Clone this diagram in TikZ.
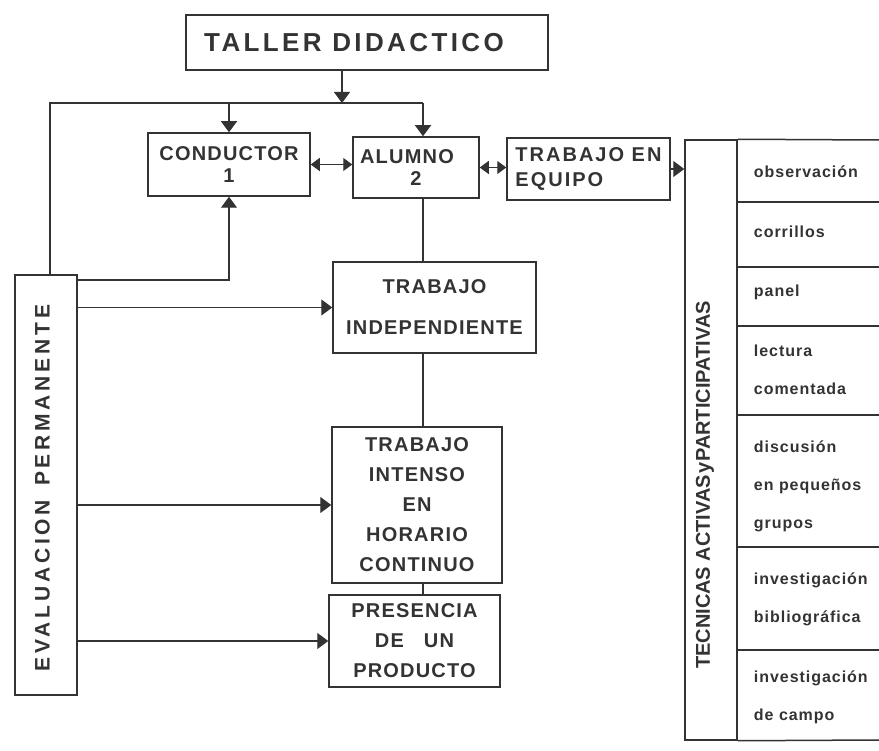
\documentclass[tikz,border=0pt]{standalone}
\usepackage{fontspec}
\setmainfont{Liberation Sans}
\usetikzlibrary{arrows.meta}
\newcommand{\fs}[2]{\fontsize{#1}{#2}\selectfont}

\begin{document}
\begin{tikzpicture}[x=1pt, y=-1pt, color=black!80, line width=1.3pt,
  main/.style = {draw, rectangle, line width=1.5pt, inner sep=0pt, align=center},
  arr/.style = {-{Triangle[width=16pt,length=11pt]}},
  arrs/.style = {{Triangle[width=13pt,length=9pt]}-{Triangle[width=13pt,length=9pt]}},
  caps/.style = {font=\bfseries\fs{20}{#1}\addfontfeature{LetterSpace=6}},
  row/.style = {font=\bfseries\fs{16}{38}\addfontfeature{LetterSpace=6}, anchor=west, align=left}]
\useasboundingbox (0,0) rectangle (879,751);

\node[main, minimum width=362pt, minimum height=55pt, font=\bfseries\fs{26}{28}\addfontfeature{LetterSpace=13}] (taller) at (367,42.5) {TALLER DIDACTICO\kern26pt};
\node[main, minimum width=162pt, minimum height=63pt, caps=22] (cond) at (229,164.5) {CONDUCTOR\\1};
\node[main, minimum width=126pt, minimum height=61pt, caps=22] (alum) at (416,167.5) {ALUMNO\kern18pt\\2};
\node[main, minimum width=163pt, minimum height=62pt, align=left, font=\bfseries\fs{20}{25}\addfontfeature{LetterSpace=10}] (equipo) at (588.5,169) {TRABAJO EN\\EQUIPO};
\node[main, minimum width=203pt, minimum height=91pt, caps=41] (indep) at (434.5,307.5) {TRABAJO\\INDEPENDIENTE};
\node[main, minimum width=170pt, minimum height=156pt, caps=30] (intenso) at (417,505) {TRABAJO\\INTENSO\\EN\\HORARIO\\CONTINUO};
\node[main, minimum width=171pt, minimum height=92pt, caps=30] (presencia) at (414.5,641) {PRESENCIA\\DE\quad UN\\PRODUCTO};
\node[main, minimum width=62pt, minimum height=420pt] (eval) at (46,485) {};
\node[rotate=90, font=\bfseries\fs{21}{22}\addfontfeature{LetterSpace=18}] (evaltxt) at (42.5,488) {EVALUACION\hspace{14pt}PERMANENTE};
\node[main, minimum width=52pt, minimum height=600pt] (tec) at (711,440) {};
\node[rotate=90, font=\bfseries\fs{20}{22}] (tectxt) at (705,485) {TECNICAS ACTIVAS\kern1pt y\kern1pt PARTICIPATIVAS};

% filas de tecnicas
\foreach \y in {202,267,326,415,547,650}
  \draw[line width=1.5pt] (tec.east |- 0,\y) -- (879,\y);
\draw[line width=1.5pt] (tec.north east) -- (879,140);
\draw[line width=1.5pt] (tec.south east) -- (879,740);
\node[row] (obs) at (750,172) {observación};
\node[row] (corr) at (750,232) {corrillos};
\node[row] (panel) at (750,292) {panel};
\node[row] (lect) at (750,369.5) {lectura\\comentada};
\node[row] (disc) at (750,486.5) {discusión\\en pequeños\\grupos};
\node[row] (bibl) at (750,599.5) {investigación\\bibliográfica};
\node[row] (campo) at (750,697.5) {investigación\\de campo};

\coordinate (j) at (342,103);
\coordinate (bl) at (50,103);
\coordinate (br) at (423,103);
\coordinate (k) at (229,280);

\draw[arr] (taller.south -| j) -- (j);
\draw (eval.north -| bl) -- (bl) -- (br);
\draw[arr] (cond.north |- bl) -- (cond.north);
\draw[arr] (br) -- (alum.north -| br);
\draw[arrs] (cond.east) -- (cond.east -| alum.west);
\draw[arrs] (alum.east) -- (alum.east -| equipo.west);
\draw[arr] (equipo.east) -- (equipo.east -| tec.west);
\draw[arr] (eval.east |- k) -- (k) -- (cond.south);
\draw (alum.south -| br) -- (indep.north -| br);
\draw (indep.south -| br) -- (intenso.north -| br);
\draw (intenso.south -| br) -- (presencia.north -| br);
\foreach \n in {indep, intenso, presencia}
  \draw[arr] (eval.east |- \n.west) -- (\n.west);
\end{tikzpicture}
\end{document}
